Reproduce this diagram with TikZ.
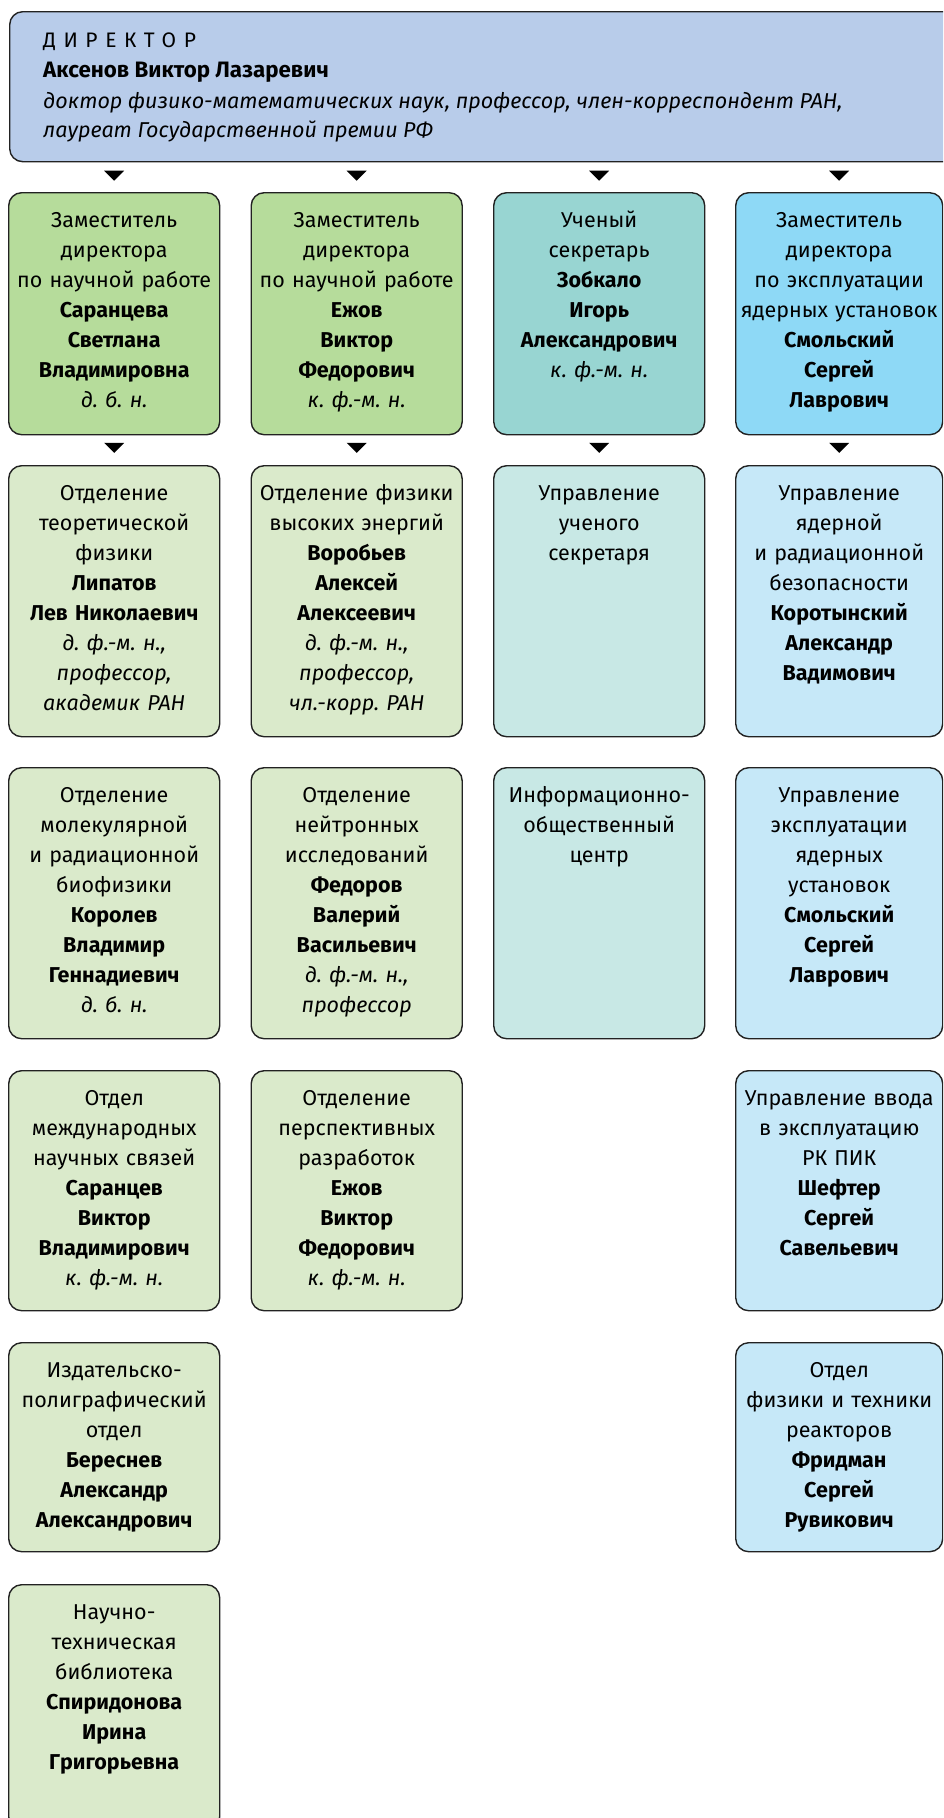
\documentclass[tikz,border=0pt]{standalone}
\usepackage{fontspec}
\setmainfont{Fira Sans}
\usetikzlibrary{calc}
\definecolor{dirc}{HTML}{B8CCEA}
\definecolor{depg}{HTML}{B6DC9B}
\definecolor{sect}{HTML}{98D5D2}
\definecolor{depb}{HTML}{8ED9F6}
\definecolor{lgreen}{HTML}{DAEACB}
\definecolor{lteal}{HTML}{C8E8E5}
\definecolor{lblue}{HTML}{C6E8F8}
\definecolor{edge}{HTML}{222222}
\newcommand\fl{\rule{0pt}{20pt}}
\frenchspacing
\tikzset{
  box/.style={draw=edge, line width=1.4pt, rounded corners=13pt, anchor=north west, inner sep=0pt, minimum width=211pt},
  boxr/.style={box, minimum width=207pt},
  txt/.style={anchor=north, text width=214pt, align=center, inner sep=0pt, font=\fontsize{21.5}{30}\selectfont\frenchspacing},
  dtxt/.style={anchor=base west, inner sep=0pt},
  tri/.style={fill=black},
}
\newcommand\tridown[1]{\fill[tri] (#1) ++(-10,-5) -- ++(20,0) -- ++(-10,10) -- cycle;}
\begin{document}
\begin{tikzpicture}[x=1pt,y=-1pt]
\useasboundingbox (0,0) rectangle (943,1818);
\clip (0,0) rectangle (943,1818);
% director
\node[box, fill=dirc, minimum width=960pt, minimum height=150pt] (dir) at (9,11) {};
\node[dtxt, font=\fontsize{21}{24}\selectfont\addfontfeature{LetterSpace=36}] (dirt) at (43,47) {ДИРЕКТОР};
\node[dtxt, font=\fontsize{22.3}{24}\selectfont\bfseries] (dirn) at (43,77) {Аксенов Виктор Лазаревич};
\node[dtxt, font=\fontsize{21.5}{24}\selectfont\itshape] (dird1) at (43,108) {доктор физико-математических наук, профессор, член-корреспондент РАН,};
\node[dtxt, font=\fontsize{21.5}{24}\selectfont\itshape] (dird2) at (43,137) {лауреат Государственной премии РФ};
% row 1
\node[box, fill=depg, minimum height=242pt] (a1) at (8,192) {};
\node[box, fill=depg, minimum height=242pt] (b1) at (250.5,192) {};
\node[box, fill=sect, minimum height=242pt] (c1) at (493,192) {};
\node[boxr, fill=depb, minimum height=242pt] (d1) at (735,192) {};
% row 2
\node[box, fill=lgreen, minimum height=271pt] (a2) at (8,465) {};
\node[box, fill=lgreen, minimum height=271pt] (b2) at (250.5,465) {};
\node[box, fill=lteal, minimum height=271pt] (c2) at (493,465) {};
\node[boxr, fill=lblue, minimum height=271pt] (d2) at (735,465) {};
% row 3
\node[box, fill=lgreen, minimum height=271pt] (a3) at (8,767) {};
\node[box, fill=lgreen, minimum height=271pt] (b3) at (250.5,767) {};
\node[box, fill=lteal, minimum height=271pt] (c3) at (493,767) {};
\node[boxr, fill=lblue, minimum height=271pt] (d3) at (735,767) {};
% row 4
\node[box, fill=lgreen, minimum height=240pt] (a4) at (8,1070) {};
\node[box, fill=lgreen, minimum height=240pt] (b4) at (250.5,1070) {};
\node[boxr, fill=lblue, minimum height=240pt] (d4) at (735,1070) {};
% row 5
\node[box, fill=lgreen, minimum height=209pt] (a5) at (8,1342) {};
\node[boxr, fill=lblue, minimum height=209pt] (d5) at (735,1342) {};
% row 6
\node[box, fill=lgreen, minimum height=245pt] (a6) at (8,1584) {};
% triangles
\foreach \n in {a,b,c,d}{
  \path (dir.south -| \n1.north) -- (\n1.north) coordinate[pos=0.45] (t0\n);
  \tridown{t0\n}
  \path (\n1.south) -- (\n2.north) coordinate[pos=0.42] (t1\n);
  \tridown{t1\n}
}
% texts
\node[txt] (a1t) at ([yshift=-15pt]a1.north) {\fl Заместитель\\директора\\по научной работе\\\textbf{Саранцева}\\\textbf{Светлана}\\\textbf{Владимировна}\\\textit{д. б. н.}};
\node[txt] (b1t) at ([yshift=-15pt]b1.north) {\fl Заместитель\\директора\\по научной работе\\\textbf{Ежов}\\\textbf{Виктор}\\\textbf{Федорович}\\\textit{к. ф.-м. н.}};
\node[txt] (c1t) at ([yshift=-15pt]c1.north) {\fl Ученый\\секретарь\\\textbf{Зобкало}\\\textbf{Игорь}\\\textbf{Александрович}\\\textit{к. ф.-м. н.}};
\node[txt] (d1t) at ([yshift=-15pt]d1.north) {\fl Заместитель\\директора\\по эксплуатации\\ядерных установок\\\textbf{Смольский}\\\textbf{Сергей}\\\textbf{Лаврович}};
\node[txt] (a2t) at ([yshift=-15pt]a2.north) {\fl Отделение\\теоретической\\физики\\\textbf{Липатов}\\\textbf{Лев Николаевич}\\\textit{д. ф.-м. н.,}\\\textit{профессор,}\\\textit{академик РАН}};
\node[txt] (b2t) at ([yshift=-15pt]b2.north) {\fl Отделение физики\\высоких энергий\\\textbf{Воробьев}\\\textbf{Алексей}\\\textbf{Алексеевич}\\\textit{д. ф.-м. н.,}\\\textit{профессор,}\\\textit{чл.-корр. РАН}};
\node[txt] (c2t) at ([yshift=-15pt]c2.north) {\fl Управление\\ученого\\секретаря};
\node[txt] (d2t) at ([yshift=-15pt]d2.north) {\fl Управление\\ядерной\\и радиационной\\безопасности\\\textbf{Коротынский}\\\textbf{Александр}\\\textbf{Вадимович}};
\node[txt] (a3t) at ([yshift=-15pt]a3.north) {\fl Отделение\\молекулярной\\и радиационной\\биофизики\\\textbf{Королев}\\\textbf{Владимир}\\\textbf{Геннадиевич}\\\textit{д. б. н.}};
\node[txt] (b3t) at ([yshift=-15pt]b3.north) {\fl Отделение\\нейтронных\\исследований\\\textbf{Федоров}\\\textbf{Валерий}\\\textbf{Васильевич}\\\textit{д. ф.-м. н.,}\\\textit{профессор}};
\node[txt] (c3t) at ([yshift=-15pt]c3.north) {\fl Информационно-\\общественный\\центр};
\node[txt] (d3t) at ([yshift=-15pt]d3.north) {\fl Управление\\эксплуатации\\ядерных\\установок\\\textbf{Смольский}\\\textbf{Сергей}\\\textbf{Лаврович}};
\node[txt] (a4t) at ([yshift=-15pt]a4.north) {\fl Отдел\\международных\\научных связей\\\textbf{Саранцев}\\\textbf{Виктор}\\\textbf{Владимирович}\\\textit{к. ф.-м. н.}};
\node[txt] (b4t) at ([yshift=-15pt]b4.north) {\fl Отделение\\перспективных\\разработок\\\textbf{Ежов}\\\textbf{Виктор}\\\textbf{Федорович}\\\textit{к. ф.-м. н.}};
\node[txt] (d4t) at ([yshift=-15pt]d4.north) {\fl Управление ввода\\в эксплуатацию\\РК ПИК\\\textbf{Шефтер}\\\textbf{Сергей}\\\textbf{Савельевич}};
\node[txt] (a5t) at ([yshift=-15pt]a5.north) {\fl Издательско-\\полиграфический\\отдел\\\textbf{Береснев}\\\textbf{Александр}\\\textbf{Александрович}};
\node[txt] (d5t) at ([yshift=-15pt]d5.north) {\fl Отдел\\физики и техники\\реакторов\\\textbf{Фридман}\\\textbf{Сергей}\\\textbf{Рувикович}};
\node[txt] (a6t) at ([yshift=-15pt]a6.north) {\fl Научно-\\техническая\\библиотека\\\textbf{Спиридонова}\\\textbf{Ирина}\\\textbf{Григорьевна}};
\end{tikzpicture}
\end{document}
